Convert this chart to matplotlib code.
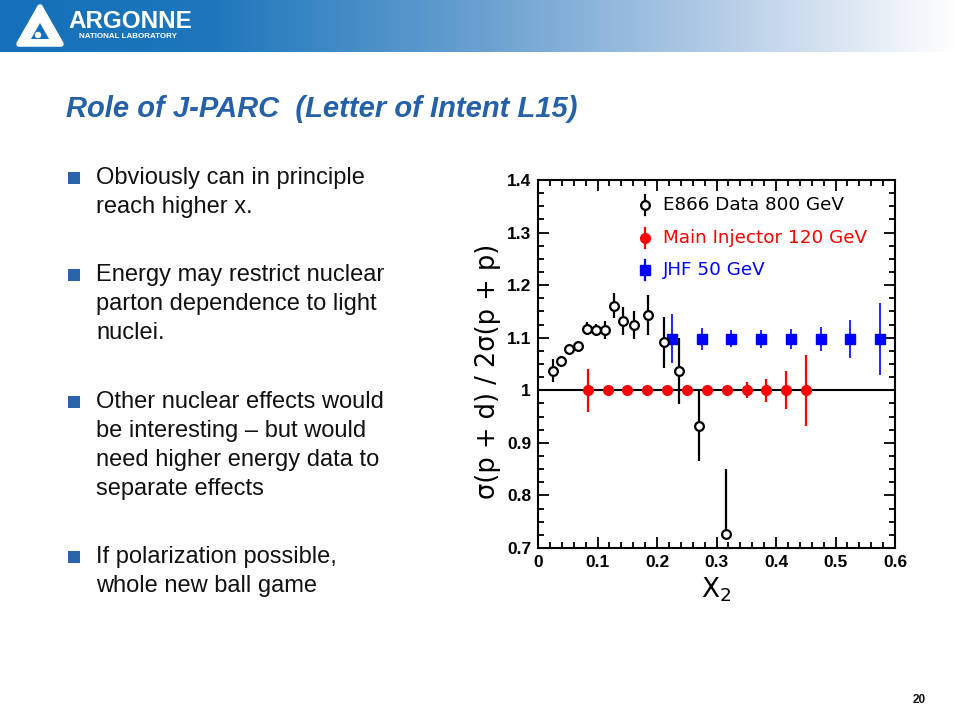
import numpy as np
import matplotlib
matplotlib.use("Agg")
import matplotlib.pyplot as plt
from matplotlib.colors import LinearSegmentedColormap
from matplotlib.patches import Polygon, Rectangle, Circle
from matplotlib.ticker import MultipleLocator, FixedLocator, FixedFormatter

# ---------------- data ----------------
e866_x = [0.025, 0.038, 0.052, 0.068, 0.082, 0.097, 0.112, 0.127, 0.143, 0.161, 0.185, 0.211, 0.237, 0.271, 0.316]
e866_y = [1.037, 1.056, 1.079, 1.085, 1.117, 1.115, 1.114, 1.161, 1.132, 1.124, 1.144, 1.091, 1.037, 0.933, 0.726]
e866_err_lo = [0.022, 0.010, 0.008, 0.008, 0.012, 0.012, 0.017, 0.024, 0.027, 0.027, 0.038, 0.048, 0.063, 0.067, 0.0]
e866_err_hi = [0.022, 0.010, 0.008, 0.008, 0.012, 0.012, 0.017, 0.024, 0.027, 0.027, 0.038, 0.048, 0.063, 0.067, 0.125]

mi_x = [0.084, 0.117, 0.150, 0.183, 0.216, 0.250, 0.284, 0.317, 0.351, 0.384, 0.417, 0.450]
mi_y = [1.0, 1.0, 1.0, 1.0, 1.0, 1.0, 1.0, 1.0, 1.0, 1.0, 1.0, 1.0]
mi_err = [0.041, 0.004, 0.004, 0.005, 0.005, 0.006, 0.007, 0.009, 0.015, 0.022, 0.036, 0.068]

jhf_x = [0.225, 0.275, 0.325, 0.375, 0.425, 0.475, 0.525, 0.575]
jhf_y = [1.098, 1.098, 1.098, 1.098, 1.098, 1.098, 1.098, 1.098]
jhf_err = [0.047, 0.021, 0.016, 0.017, 0.019, 0.023, 0.036, 0.068]

series_labels = ["E866 Data 800 GeV", "Main Injector 120 GeV", "JHF 50 GeV"]
x_ticks = [0.0, 0.1, 0.2, 0.3, 0.4, 0.5, 0.6]
x_tick_labels = ["0", "0.1", "0.2", "0.3", "0.4", "0.5", "0.6"]
y_ticks = [0.7, 0.8, 0.9, 1.0, 1.1, 1.2, 1.3, 1.4]
y_tick_labels = ["0.7", "0.8", "0.9", "1", "1.1", "1.2", "1.3", "1.4"]

title = "Role of J-PARC  (Letter of Intent L15)"
bullets = [
    ["Obviously can in principle", "reach higher x."],
    ["Energy may restrict nuclear", "parton dependence to light", "nuclei."],
    ["Other nuclear effects would", "be interesting \u2013 but would", "need higher energy data to", "separate effects"],
    ["If polarization possible,", "whole new ball game"],
]

# ---------------- figure ----------------
W, H = 960, 720
fig = plt.figure(figsize=(W / 100, H / 100), dpi=100)
fig.patch.set_facecolor("white")

def fx(px):
    return px / W

def fy(py):
    return 1 - py / H

# header banner gradient
hax = fig.add_axes([0, fy(52), 1, 52 / H])
cmap = LinearSegmentedColormap.from_list(
    "banner",
    [(0.0, "#1570b9"), (0.22, "#1e77bc"), (0.5, "#69a0d0"), (0.75, "#b4cce6"), (0.97, "#f7f9fc"), (1.0, "#ffffff")],
)
grad = np.linspace(0, 1, 512).reshape(1, -1)
hax.imshow(grad, aspect="auto", cmap=cmap, extent=[0, W, 52, 0])
hax.set_xlim(0, W)
hax.set_ylim(52, 0)
hax.axis("off")

# logo shape (A-like triangle)
outer = Polygon([[40, 7], [61, 44], [19, 44]], closed=True, facecolor="white", edgecolor="white",
                linewidth=4, joinstyle="round")
inner = Polygon([[40, 23], [49, 39], [31, 39]], closed=True, facecolor="#1570b9", edgecolor="none")
hax.add_patch(outer)
hax.add_patch(inner)
hax.add_patch(Circle((38, 35), 3.2, facecolor="white", edgecolor="none"))
hax.text(68, 21, "ARGONNE", color="white", fontsize=17.5, fontweight="bold",
         family="Liberation Sans", va="center", ha="left")
hax.text(79, 37, "NATIONAL LABORATORY", color="white", fontsize=5.8, fontweight="bold",
         family="Liberation Sans", va="center", ha="left")

# title
fig.text(fx(66), fy(109), title, color="#2461a8", fontsize=21, fontweight="bold",
         fontstyle="italic", family="Liberation Sans", va="center", ha="left")

# bullets
line_h = 29
starts = [178, 275, 402, 557]
for start, lines in zip(starts, bullets):
    fig.patches.append(Rectangle((fx(68), fy(start + 6)), 12 / W, 12 / H, transform=fig.transFigure,
                                 facecolor="#2a63ab", edgecolor="none"))
    for i, ln in enumerate(lines):
        fig.text(fx(96), fy(start + i * line_h), ln, color="#111111", fontsize=17,
                 family="Liberation Sans", va="center", ha="left")

# page number
fig.text(fx(919), fy(700), "20", color="#111111", fontsize=8.5, fontweight="bold",
         family="Liberation Sans", va="center", ha="center")

# ---------------- chart ----------------
ax = fig.add_axes([fx(538), fy(548), fx(895) - fx(538), (548 - 180) / H])
ax.set_xlim(0, 0.6)
ax.set_ylim(0.7, 1.4)

ax.axhline(1.0, color="black", lw=1.5, zorder=1)

ax.errorbar(mi_x, mi_y, yerr=mi_err, fmt="o", color="#ff0000", ms=7, mec="#ff0000",
            elinewidth=1.6, capsize=0, zorder=3)
ax.errorbar(jhf_x, jhf_y, yerr=jhf_err, fmt="s", color="#0000ff", ms=6.5, mec="#0000ff",
            elinewidth=1.2, capsize=0, zorder=3)
ax.errorbar(e866_x, e866_y, yerr=[e866_err_lo, e866_err_hi], fmt="o", color="black", ms=6.3,
            mfc="white", mec="black", mew=1.6, elinewidth=1.6, capsize=0, zorder=4)

# legend drawn manually
leg_rows = [0.932, 0.842, 0.755]
leg_styles = [
    dict(marker="o", color="black", mfc="white", mec="black", mew=1.6, ms=6.3),
    dict(marker="o", color="#ff0000", mfc="#ff0000", mec="#ff0000", ms=7),
    dict(marker="s", color="#0000ff", mfc="#0000ff", mec="#0000ff", ms=6.5),
]
leg_colors = ["black", "#ff0000", "#0000ff"]
for yy, lab, st, c in zip(leg_rows, series_labels, leg_styles, leg_colors):
    ax.plot([0.30, 0.30], [yy - 0.028, yy + 0.028], color=c, lw=1.6, transform=ax.transAxes, zorder=5)
    ax.plot([0.30], [yy], linestyle="none", transform=ax.transAxes, zorder=6, **st)
    ax.text(0.35, yy, lab, color=c, fontsize=13.2, family="DejaVu Sans",
            transform=ax.transAxes, va="center", ha="left")

for s in ax.spines.values():
    s.set_linewidth(1.5)
    s.set_color("black")

ax.xaxis.set_major_locator(FixedLocator(x_ticks))
ax.xaxis.set_major_formatter(FixedFormatter(x_tick_labels))
ax.yaxis.set_major_locator(FixedLocator(y_ticks))
ax.yaxis.set_major_formatter(FixedFormatter(y_tick_labels))
ax.xaxis.set_minor_locator(MultipleLocator(0.02))
ax.yaxis.set_minor_locator(MultipleLocator(0.025))
ax.tick_params(which="both", direction="in", top=True, right=True, width=1.3, color="black")
ax.tick_params(which="major", length=8)
ax.tick_params(which="minor", length=4)
ax.tick_params(axis="x", which="major", pad=5)
ax.tick_params(axis="y", which="major", pad=5)
for lbl in ax.get_xticklabels() + ax.get_yticklabels():
    lbl.set_fontfamily("Liberation Sans")
    lbl.set_fontweight("bold")
    lbl.set_fontsize(12.5)

ax.set_xlabel("X$_2$", fontsize=19, family="DejaVu Sans", labelpad=4)
ax.set_ylabel("\u03c3(p + d) / 2\u03c3(p + p)", fontsize=18.5, family="DejaVu Sans", labelpad=4)
ax.yaxis.set_label_coords(-0.105, 0.48)

fig.savefig("out.png", dpi=100)
